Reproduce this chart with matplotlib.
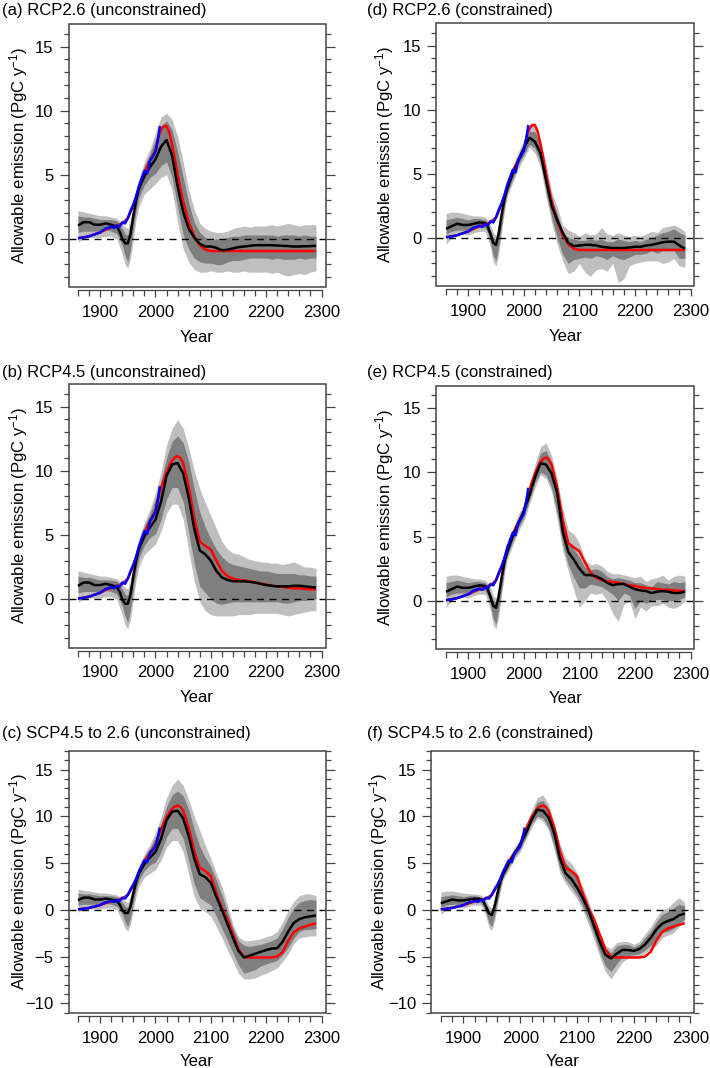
import matplotlib
matplotlib.use('Agg')
import matplotlib.pyplot as plt
from matplotlib.patches import Rectangle
from matplotlib.ticker import MultipleLocator, FixedLocator

plt.rcParams['font.family'] = ['Liberation Sans', 'DejaVu Sans']
plt.rcParams['mathtext.fontset'] = 'custom'
plt.rcParams['mathtext.rm'] = 'Liberation Sans'
plt.rcParams['mathtext.it'] = 'Liberation Sans:italic'

# ---------------- data ----------------
YEARS_HIST = [1860, 1870, 1880, 1890, 1900, 1910, 1920, 1930, 1935, 1940,
              1945, 1950, 1955, 1960, 1965, 1970, 1980, 1990, 2000]
YEARS_FUT = [2010, 2020, 2030, 2040, 2050, 2060, 2070, 2080, 2090, 2100,
             2110, 2120, 2130, 2140, 2150, 2160, 2170, 2180, 2190, 2200,
             2210, 2220, 2230, 2240, 2250, 2260, 2270, 2280, 2290]

# historical part, unconstrained ensemble
UNC_MEAN_HIST = [1.03, 1.3, 1.3, 1.1, 1.1, 1.2, 1.1, 0.95, 0.6, 0.0, -0.35, -0.35, 0.4, 1.8, 3.0, 3.9, 4.9, 5.6, 6.2]
UNC_LHI_HIST = [2.2, 2.1, 2.0, 1.9, 1.8, 1.8, 1.7, 1.6, 1.4, 1.2, 0.9, 0.8, 1.6, 2.6, 3.8, 4.7, 6.0, 7.0, 8.3]
UNC_DHI_HIST = [1.8, 1.7, 1.7, 1.6, 1.5, 1.5, 1.5, 1.4, 1.1, 0.8, 0.4, 0.25, 1.2, 2.2, 3.4, 4.4, 5.7, 6.6, 7.8]
UNC_DLO_HIST = [0.5, 0.6, 0.6, 0.6, 0.6, 0.7, 0.6, 0.4, 0.0, -0.5, -1.3, -1.8, -0.8, 0.8, 2.2, 3.2, 4.2, 4.8, 5.1]
UNC_LLO_HIST = [-0.25, 0.0, 0.1, 0.1, 0.1, 0.2, 0.2, 0.0, -0.6, -1.2, -2.0, -2.3, -1.5, 0.0, 1.5, 2.5, 3.5, 3.9, 4.3]

# historical part, constrained ensemble
CON_MEAN_HIST = [0.7, 0.9, 1.1, 1.0, 1.0, 1.1, 1.2, 1.15, 0.9, 0.3, -0.4, -0.55, 0.4, 1.8, 3.0, 3.8, 5.0, 6.0, 7.0]
CON_LHI_HIST = [1.9, 2.0, 2.0, 1.9, 1.8, 1.7, 1.7, 1.6, 1.4, 1.0, 0.4, 0.2, 1.2, 2.5, 3.6, 4.4, 5.5, 6.7, 7.6]
CON_DHI_HIST = [1.4, 1.5, 1.6, 1.5, 1.4, 1.5, 1.5, 1.4, 1.2, 0.6, 0.0, -0.1, 0.8, 2.1, 3.3, 4.1, 5.3, 6.4, 7.3]
CON_DLO_HIST = [0.3, 0.5, 0.6, 0.6, 0.6, 0.7, 0.8, 0.8, 0.4, -0.4, -1.4, -1.8, -0.6, 0.9, 2.4, 3.5, 4.6, 5.7, 6.5]
CON_LLO_HIST = [-0.5, 0.0, 0.3, 0.3, 0.2, 0.4, 0.5, 0.5, 0.0, -0.8, -1.9, -2.2, -1.2, 0.5, 2.0, 3.2, 4.3, 5.4, 6.2]

# (a) RCP2.6 unconstrained, future
A_MEAN = [7.2, 7.7, 6.5, 4.1, 2.1, 0.8, 0.1, -0.4, -0.6, -0.6, -0.7, -0.9, -0.85, -0.75, -0.65, -0.6, -0.55, -0.5, -0.5, -0.5, -0.5, -0.52, -0.55, -0.57, -0.6, -0.6, -0.58, -0.57, -0.55]
A_LHI = [9.5, 9.8, 9.3, 8.0, 6.0, 3.8, 2.3, 1.2, 0.8, 0.6, 0.5, 0.5, 0.6, 0.8, 0.9, 1.0, 0.9, 1.0, 1.0, 1.0, 1.1, 1.0, 1.1, 1.2, 1.1, 1.0, 1.1, 1.1, 1.1]
A_DHI = [8.8, 9.2, 8.5, 6.8, 4.8, 2.8, 1.3, 0.5, 0.1, -0.1, 0.0, 0.0, 0.1, 0.2, 0.2, 0.3, 0.3, 0.3, 0.3, 0.3, 0.3, 0.2, 0.3, 0.3, 0.3, 0.2, 0.3, 0.2, 0.2]
A_DLO = [5.7, 6.0, 4.8, 2.5, 0.3, -0.8, -1.5, -1.8, -1.9, -1.9, -2.0, -2.0, -1.8, -1.7, -1.7, -1.6, -1.5, -1.5, -1.5, -1.5, -1.6, -1.5, -1.6, -1.6, -1.6, -1.5, -1.6, -1.5, -1.5]
A_LLO = [4.8, 5.0, 3.8, 1.3, -0.8, -1.8, -2.4, -2.6, -2.6, -2.5, -2.6, -2.6, -2.5, -2.6, -2.6, -2.5, -2.6, -2.6, -2.6, -2.6, -2.7, -2.6, -2.8, -2.9, -2.8, -2.7, -2.8, -2.6, -2.5]

# (b) RCP4.5 unconstrained, future
B_MEAN = [7.6, 9.6, 10.5, 10.6, 9.8, 7.9, 5.5, 3.8, 3.5, 3.0, 2.2, 1.7, 1.5, 1.4, 1.4, 1.4, 1.35, 1.3, 1.2, 1.1, 1.05, 1.0, 1.0, 1.0, 1.05, 1.05, 1.0, 0.95, 0.9]
B_LHI = [9.9, 12.0, 13.3, 14.0, 13.3, 11.8, 10.0, 8.6, 7.5, 6.5, 5.5, 4.5, 3.9, 3.6, 3.5, 3.3, 3.1, 3.0, 2.9, 2.9, 2.8, 2.8, 2.7, 2.8, 2.9, 2.7, 2.5, 2.5, 2.4]
B_DHI = [9.2, 11.0, 12.3, 12.7, 12.2, 10.7, 8.6, 6.8, 5.6, 4.7, 3.9, 3.3, 2.9, 2.7, 2.6, 2.5, 2.4, 2.3, 2.2, 2.2, 2.1, 2.0, 2.0, 2.0, 2.0, 1.9, 1.9, 1.8, 1.8]
B_DLO = [6.2, 7.8, 8.7, 8.7, 7.6, 5.2, 2.8, 1.0, 0.5, 0.0, -0.3, -0.4, -0.3, -0.2, -0.2, -0.2, -0.2, -0.2, -0.2, -0.2, -0.2, -0.2, -0.3, -0.3, -0.2, -0.1, -0.1, 0.0, 0.0]
B_LLO = [5.3, 6.7, 7.4, 7.4, 6.2, 3.8, 1.4, -0.2, -0.9, -1.2, -1.3, -1.3, -1.3, -1.3, -1.2, -1.2, -1.2, -1.1, -1.1, -1.1, -1.1, -1.1, -1.2, -1.3, -1.2, -1.1, -1.0, -0.9, -0.9]

# (c) SCP4.5 to 2.6 unconstrained, future
C_MEAN = [7.6, 9.6, 10.5, 10.6, 9.8, 7.9, 5.5, 3.8, 3.5, 2.9, 1.4, 0.0, -1.5, -3.0, -4.4, -5.1, -4.9, -4.7, -4.5, -4.3, -4.15, -4.1, -3.4, -2.3, -1.4, -1.0, -0.8, -0.7, -0.6]
C_LHI = [9.9, 12.0, 13.3, 14.0, 13.3, 11.8, 10.0, 8.5, 6.9, 5.5, 3.9, 2.5, 0.5, -1.6, -2.9, -3.3, -3.3, -3.2, -3.1, -2.9, -2.7, -2.3, -1.3, 0.0, 0.9, 1.5, 1.7, 1.7, 1.5]
C_DHI = [9.2, 11.0, 12.3, 12.7, 12.2, 10.7, 8.6, 6.8, 5.6, 4.6, 3.2, 1.6, -0.2, -2.0, -3.3, -3.8, -3.9, -3.8, -3.7, -3.5, -3.3, -3.0, -2.0, -0.8, 0.2, 0.8, 1.0, 1.1, 1.0]
C_DLO = [6.2, 7.8, 8.7, 8.7, 7.6, 5.2, 2.8, 1.3, 0.9, 0.5, -0.7, -2.0, -3.3, -4.6, -5.9, -6.8, -6.6, -6.4, -6.0, -5.8, -5.6, -5.4, -4.8, -4.0, -3.0, -2.3, -2.1, -2.1, -2.0]
C_LLO = [5.3, 6.7, 7.4, 7.4, 6.2, 3.8, 1.4, 0.2, -0.2, -0.7, -1.8, -3.0, -4.3, -5.5, -6.8, -7.4, -7.4, -7.3, -7.0, -6.8, -6.5, -6.2, -5.5, -4.7, -3.6, -3.0, -2.9, -2.8, -2.8]

# (d) RCP2.6 constrained, future
D_MEAN = [7.8, 7.5, 6.6, 4.5, 2.5, 1.4, 0.4, -0.4, -0.65, -0.6, -0.55, -0.55, -0.6, -0.7, -0.75, -0.8, -0.8, -0.8, -0.75, -0.7, -0.7, -0.6, -0.55, -0.45, -0.35, -0.3, -0.3, -0.6, -0.85]
D_LHI = [8.8, 8.8, 7.6, 5.8, 3.6, 2.4, 1.0, 0.6, 0.4, 0.1, 0.4, 0.2, 0.3, 0.8, 0.3, 0.2, 0.4, 0.2, 0.1, 0.2, 0.1, 0.3, 0.5, 0.4, 0.8, 0.9, 1.0, 0.8, 0.5]
D_DHI = [8.3, 8.3, 7.2, 5.2, 3.1, 1.9, 0.4, 0.0, -0.1, -0.2, -0.2, -0.1, -0.2, -0.1, -0.3, -0.3, -0.1, -0.2, -0.3, -0.2, -0.3, -0.1, 0.0, 0.2, 0.4, 0.5, 0.7, 0.4, 0.2]
D_DLO = [7.3, 7.0, 5.9, 3.6, 1.6, 0.0, -1.3, -2.0, -1.7, -1.6, -1.5, -1.6, -1.4, -1.5, -1.7, -1.4, -1.6, -1.7, -1.5, -1.3, -1.3, -1.2, -1.0, -1.2, -1.0, -1.0, -1.0, -1.6, -1.6]
D_LLO = [7.1, 6.6, 5.5, 3.2, 1.2, -0.5, -1.8, -2.8, -2.6, -2.0, -2.7, -3.0, -2.5, -2.4, -2.6, -2.0, -3.5, -3.2, -2.2, -2.0, -1.9, -1.8, -1.8, -1.8, -2.0, -1.9, -1.6, -2.2, -2.3]

# (e) RCP4.5 constrained, future
E_MEAN = [8.2, 9.6, 10.7, 10.6, 9.9, 8.4, 5.4, 3.8, 3.2, 2.5, 2.0, 2.0, 1.9, 1.7, 1.4, 1.2, 1.3, 1.3, 1.1, 0.9, 0.8, 0.75, 0.6, 0.7, 0.75, 0.7, 0.6, 0.6, 0.7]
E_LHI = [9.0, 10.6, 12.0, 12.3, 11.3, 9.5, 7.2, 5.5, 5.2, 4.5, 3.2, 2.8, 2.9, 2.7, 2.3, 2.1, 2.1, 2.0, 1.9, 1.8, 1.9, 1.5, 1.7, 1.8, 2.0, 1.6, 1.9, 2.0, 1.9]
E_DHI = [8.7, 10.2, 11.5, 11.7, 10.8, 9.0, 6.4, 4.6, 4.0, 3.4, 2.6, 2.4, 2.5, 2.3, 1.9, 1.7, 1.8, 1.7, 1.6, 1.4, 1.4, 1.2, 1.1, 1.5, 1.4, 1.3, 1.5, 1.4, 1.5]
E_DLO = [7.8, 9.2, 10.0, 9.8, 8.8, 6.8, 4.4, 2.8, 1.8, 1.0, 1.0, 1.3, 1.2, 1.1, 0.8, 0.5, 0.0, 0.6, 0.4, -0.6, 0.0, -0.2, 0.0, 0.1, 0.1, 0.0, 0.0, 0.1, 0.3]
E_LLO = [7.5, 8.8, 9.8, 9.5, 8.5, 6.4, 3.9, 2.3, 0.8, -0.5, 0.0, 0.6, 0.5, 0.6, 0.0, -1.0, -1.6, -0.3, 0.0, -1.4, -0.5, -0.8, -0.4, -0.4, -0.2, -0.5, -0.6, -0.4, 0.0]

# (f) SCP4.5 to 2.6 constrained, future
F_MEAN = [8.2, 9.6, 10.7, 10.6, 9.9, 8.2, 5.5, 3.9, 3.3, 2.4, 1.3, 0.0, -1.7, -3.4, -4.8, -5.2, -4.7, -4.3, -4.3, -4.4, -4.2, -3.7, -3.0, -2.1, -1.5, -1.2, -1.0, -0.6, -0.4]
F_LHI = [9.0, 10.6, 12.0, 12.3, 11.3, 9.3, 7.0, 5.5, 5.0, 4.0, 2.5, 1.0, -0.8, -2.5, -3.8, -4.2, -3.5, -3.4, -3.4, -3.7, -3.4, -2.6, -1.8, -0.8, 0.0, 0.2, 0.8, 1.3, 0.8]
F_DHI = [8.7, 10.2, 11.5, 11.7, 10.8, 8.8, 6.4, 5.0, 4.3, 3.4, 2.0, 0.5, -1.2, -3.0, -4.2, -4.6, -3.9, -3.7, -3.7, -4.0, -3.7, -3.0, -2.3, -1.3, -0.5, -0.2, 0.2, 0.6, 0.4]
F_DLO = [7.8, 9.2, 10.0, 9.8, 8.8, 6.8, 4.4, 3.2, 2.5, 1.6, 0.4, -1.0, -2.6, -4.5, -6.0, -6.6, -5.8, -5.0, -4.9, -4.8, -4.7, -4.3, -3.8, -3.3, -2.4, -2.3, -2.0, -1.5, -1.0]
F_LLO = [7.5, 8.8, 9.8, 9.5, 8.5, 6.4, 3.9, 2.8, 2.0, 1.2, 0.0, -1.5, -3.2, -5.0, -6.6, -7.4, -6.5, -5.6, -5.2, -5.0, -5.0, -4.6, -4.2, -3.8, -3.0, -2.7, -2.5, -1.8, -1.2]

# scenario (red) emission pathways
RED_YEARS = [1860, 1880, 1900, 1920, 1940, 1950, 1960, 1970, 1980, 1990, 2000,
             2005, 2010, 2015, 2020, 2025, 2030, 2035, 2040, 2045, 2050,
             2060, 2070, 2080, 2090, 2100, 2110, 2120, 2130, 2140, 2150, 2160, 2170,
             2180, 2190, 2200, 2210, 2220, 2230, 2240, 2250, 2260, 2270, 2280, 2290]
RED_RCP26 = [0.05, 0.2, 0.5, 0.9, 1.2, 1.6, 2.6, 4.0, 5.2, 6.1, 6.9,
             7.9, 8.5, 8.8, 8.8, 8.3, 7.3, 6.2, 5.0, 3.9, 2.9,
             1.3, 0.2, -0.5, -0.85, -0.95, -0.95, -0.95, -0.95, -0.95, -0.95, -0.95, -0.95,
             -0.95, -0.95, -0.95, -0.95, -0.95, -0.95, -0.95, -0.95, -0.95, -0.95, -0.95, -0.95]
RED_RCP45 = [0.05, 0.2, 0.5, 0.9, 1.2, 1.6, 2.6, 4.0, 5.2, 6.1, 6.9,
             7.9, 8.6, 9.3, 9.9, 10.4, 10.8, 11.05, 11.15, 11.0, 10.6,
             8.8, 6.3, 4.5, 4.15, 3.85, 3.0, 2.2, 1.8, 1.6, 1.5, 1.45, 1.4,
             1.3, 1.2, 1.15, 1.05, 1.0, 0.95, 0.9, 0.85, 0.85, 0.8, 0.78, 0.75]
RED_SCP = [0.05, 0.2, 0.5, 0.9, 1.2, 1.6, 2.6, 4.0, 5.2, 6.1, 6.9,
           7.9, 8.6, 9.3, 9.9, 10.4, 10.8, 11.05, 11.15, 11.0, 10.6,
           8.8, 6.3, 4.5, 4.15, 3.6, 1.8, 0.2, -1.0, -2.6, -4.2, -5.05, -5.1,
           -5.1, -5.1, -5.1, -5.1, -5.0, -4.5, -3.3, -2.4, -2.0, -1.8, -1.6, -1.45]

# observed (blue) emissions
BLUE_YEARS = [1860, 1870, 1880, 1890, 1900, 1910, 1915, 1920, 1925, 1930, 1935, 1940, 1945,
              1950, 1955, 1960, 1965, 1970, 1975, 1980, 1985, 1990, 1995, 2000, 2005, 2008]
BLUE_OBS = [0.05, 0.1, 0.2, 0.35, 0.5, 0.8, 0.85, 0.95, 0.85, 1.05, 0.95, 1.3, 1.2,
            1.6, 2.2, 2.7, 3.3, 4.1, 4.7, 5.3, 5.1, 6.1, 6.4, 6.8, 7.9, 8.8]

TITLES = ['(a) RCP2.6 (unconstrained)', '(b) RCP4.5 (unconstrained)',
          '(c) SCP4.5 to 2.6 (unconstrained)', '(d) RCP2.6 (constrained)',
          '(e) RCP4.5 (constrained)', '(f) SCP4.5 to 2.6 (constrained)']
YLABEL = 'Allowable emission (PgC y$^{-1}$)'
XLABEL = 'Year'

# ---------------- layout (pixels) ----------------
W, H = 710, 1068
fig = plt.figure(figsize=(W / 100, H / 100), dpi=100)

panels = [
    dict(t=TITLES[0], box=(68.5, 325.5, 24, 287), hist='U', fut=(A_MEAN, A_LHI, A_DHI, A_DLO, A_LLO), red=RED_RCP26, yl=(-3.76, 16.76), tx=2, ty=15, ylx=18.5, xly=342),
    dict(t=TITLES[1], box=(68.5, 325.5, 384, 647.5), hist='U', fut=(B_MEAN, B_LHI, B_DHI, B_DLO, B_LLO), red=RED_RCP45, yl=(-3.76, 16.76), tx=2, ty=377, ylx=18.5, xly=702),
    dict(t=TITLES[2], box=(68.5, 325.5, 750.5, 1013), hist='U', fut=(C_MEAN, C_LHI, C_DHI, C_DLO, C_LLO), red=RED_SCP, yl=(-11.04, 17.04), tx=2, ty=738, ylx=18.5, xly=1065.5),
    dict(t=TITLES[3], box=(436.5, 694.5, 23, 286), hist='C', fut=(D_MEAN, D_LHI, D_DHI, D_DLO, D_LLO), red=RED_RCP26, yl=(-3.76, 16.76), tx=367, ty=14.5, ylx=385, xly=341),
    dict(t=TITLES[4], box=(436.5, 694.5, 385.5, 649), hist='C', fut=(E_MEAN, E_LHI, E_DHI, E_DLO, E_LLO), red=RED_RCP45, yl=(-3.76, 16.76), tx=367, ty=377, ylx=385, xly=703),
    dict(t=TITLES[5], box=(431, 694.5, 750.5, 1013), hist='C', fut=(F_MEAN, F_LHI, F_DHI, F_DLO, F_LLO), red=RED_SCP, yl=(-11.04, 17.04), tx=367, ty=738, ylx=379, xly=1065.5),
]

HIST = {
    'U': (UNC_MEAN_HIST, UNC_LHI_HIST, UNC_DHI_HIST, UNC_DLO_HIST, UNC_LLO_HIST),
    'C': (CON_MEAN_HIST, CON_LHI_HIST, CON_DHI_HIST, CON_DLO_HIST, CON_LLO_HIST),
}

LIGHT = '#BFBFBF'
DARK = '#7F7F7F'
AXC = '#444444'
FS = 12

years = YEARS_HIST + YEARS_FUT
for p in panels:
    L, R, T, B = p['box']
    ax = fig.add_axes([L / W, 1 - B / H, (R - L) / W, (B - T) / H])
    h = HIST[p['hist']]
    mean, lhi, dhi, dlo, llo = [list(a) + list(b) for a, b in zip(h, p['fut'])]

    ax.fill_between(years, llo, lhi, color=LIGHT, lw=0, zorder=1)
    ax.fill_between(years, dlo, dhi, color=DARK, lw=0, zorder=2)
    ax.axhline(0, color='black', lw=1.0, ls=(0, (5, 4)), zorder=3)
    ax.plot(RED_YEARS, p['red'], color='#FF0000', lw=1.8, zorder=4, solid_capstyle='butt')
    ax.plot(years, mean, color='black', lw=1.8, zorder=5, solid_capstyle='butt')
    ax.plot(BLUE_YEARS, BLUE_OBS, color='#0000FF', lw=1.8, zorder=6, solid_capstyle='butt')

    ax.set_xlim(1842.8, 2307.2)
    ax.set_ylim(*p['yl'])

    # frame
    for s in ['top', 'right', 'left']:
        ax.spines[s].set_visible(False)
    ax.add_patch(Rectangle((0, 0), 1, 1, transform=ax.transAxes, fill=False,
                           edgecolor=AXC, lw=1.1, clip_on=False, zorder=10))
    ax.spines['bottom'].set_position(('outward', 2.2))
    ax.spines['bottom'].set_bounds(1860, 2300)
    ax.spines['bottom'].set_color(AXC)
    ax.spines['bottom'].set_linewidth(0.9)

    ax.xaxis.set_major_locator(MultipleLocator(100))
    ax.xaxis.set_minor_locator(FixedLocator(list(range(1860, 2301, 20))))
    ax.yaxis.set_major_locator(MultipleLocator(5))
    ax.yaxis.set_minor_locator(MultipleLocator(1))

    ax.tick_params(axis='x', which='major', direction='out', length=5, width=0.9,
                   color=AXC, labelsize=FS, pad=5.5, top=False)
    ax.tick_params(axis='x', which='minor', direction='out', length=4.2, width=0.9,
                   color=AXC, top=False)
    ax.tick_params(axis='y', which='major', direction='out', length=6.5, width=0.9,
                   color=AXC, labelsize=FS, pad=4.3, left=True, right=True)
    ax.tick_params(axis='y', which='minor', direction='out', length=3.6, width=0.9,
                   color=AXC, left=True, right=True)

    # texts
    fig.text(p['tx'] / W, 1 - p['ty'] / H, p['t'], fontsize=FS, ha='left', va='baseline')
    fig.text(p['ylx'] / W, 1 - ((T + B) / 2) / H, YLABEL, fontsize=FS, rotation=90,
             ha='center', va='center')
    fig.text(((L + R) / 2) / W, 1 - p['xly'] / H, XLABEL, fontsize=FS, ha='center',
             va='baseline')

fig.savefig('out.png', dpi=100)
